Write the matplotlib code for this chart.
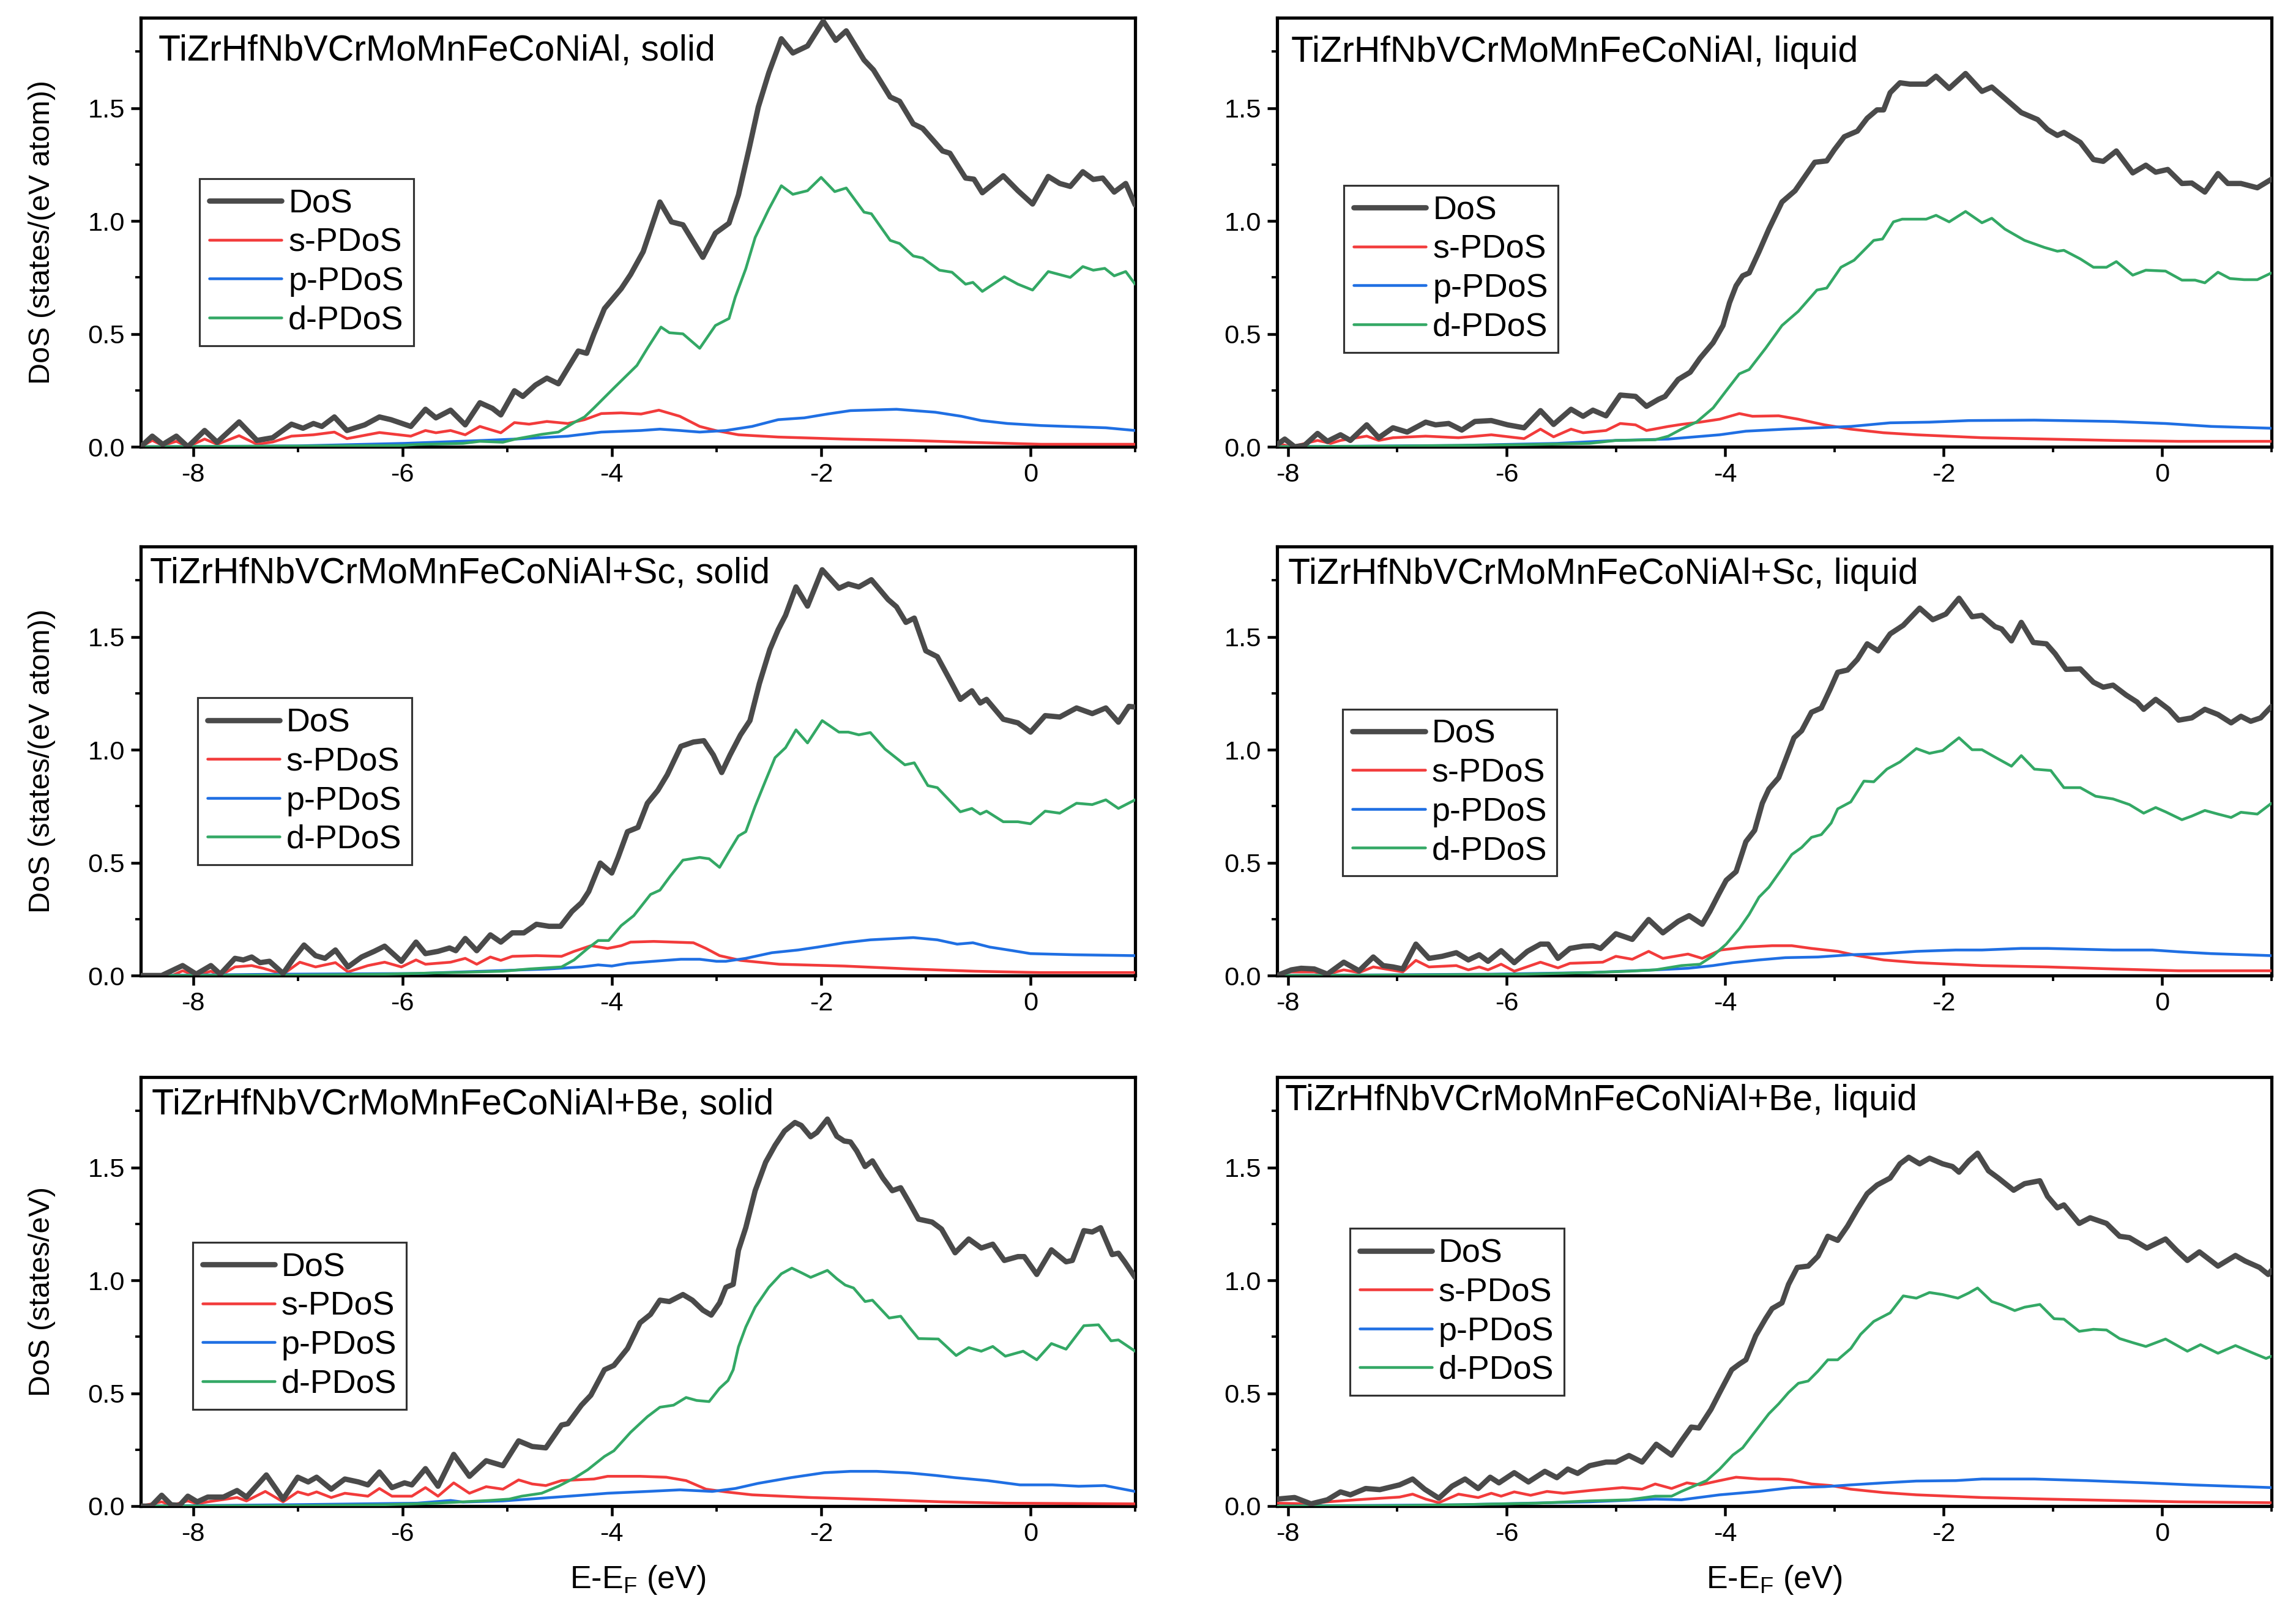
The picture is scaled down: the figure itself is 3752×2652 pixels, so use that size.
import numpy as np
import matplotlib
matplotlib.use("Agg")
import matplotlib.pyplot as plt
from matplotlib.ticker import MultipleLocator

plt.rcParams['font.family'] = ['Liberation Sans', 'DejaVu Sans']
plt.rcParams['axes.unicode_minus'] = False

# ---------------- data (E-EF in eV, DoS) ----------------
titles = ["TiZrHfNbVCrMoMnFeCoNiAl, solid", "TiZrHfNbVCrMoMnFeCoNiAl, liquid",
          "TiZrHfNbVCrMoMnFeCoNiAl+Sc, solid", "TiZrHfNbVCrMoMnFeCoNiAl+Sc, liquid",
          "TiZrHfNbVCrMoMnFeCoNiAl+Be, solid", "TiZrHfNbVCrMoMnFeCoNiAl+Be, liquid"]
series_labels = ["DoS", "s-PDoS", "p-PDoS", "d-PDoS"]
ylabels = ["DoS (states/(eV atom))", "DoS (states/(eV atom))", "DoS (states/eV)"]
xlabel = "E-E$_\\mathregular{F}$ (eV)"

# Panel 1: solid
tl_dos = [(-8.5,0.0),(-8.39,0.047),(-8.29,0.01),(-8.16,0.047),(-8.05,0.0),(-7.89,0.072),(-7.77,0.02),(-7.56,0.11),
          (-7.39,0.028),(-7.24,0.04),(-7.06,0.10),(-6.95,0.082),(-6.85,0.103),(-6.77,0.09),(-6.65,0.132),(-6.53,0.072),
          (-6.36,0.097),(-6.22,0.132),(-6.11,0.12),(-5.92,0.09),(-5.78,0.166),(-5.68,0.128),(-5.54,0.162),(-5.40,0.097),
          (-5.26,0.195),(-5.14,0.17),(-5.06,0.141),(-4.93,0.248),(-4.85,0.223),(-4.73,0.273),(-4.62,0.304),(-4.51,0.279),
          (-4.42,0.348),(-4.32,0.424),(-4.24,0.414),(-4.17,0.50),(-4.07,0.612),(-3.91,0.70),(-3.82,0.763),(-3.70,0.864),
          (-3.54,1.084),(-3.43,0.996),(-3.32,0.983),(-3.13,0.839),(-3.01,0.946),(-2.88,0.99),(-2.79,1.115),(-2.69,1.316),
          (-2.60,1.505),(-2.50,1.656),(-2.38,1.807),(-2.27,1.744),(-2.13,1.775),(-1.98,1.885),(-1.86,1.80),(-1.76,1.842),
          (-1.59,1.713),(-1.50,1.669),(-1.34,1.549),(-1.25,1.53),(-1.12,1.43),(-1.03,1.41),(-0.84,1.31),(-0.77,1.30),
          (-0.62,1.19),(-0.54,1.185),(-0.46,1.125),(-0.26,1.20),(-0.12,1.134),(0.02,1.075),(0.17,1.197),(0.28,1.166),
          (0.38,1.153),(0.50,1.218),(0.60,1.184),(0.69,1.19),(0.80,1.128),(0.91,1.166),(1.0,1.071)]
tl_s = [(-8.5,0.0),(-8.39,0.028),(-8.29,0.006),(-8.16,0.024),(-8.05,0.0),(-7.89,0.034),(-7.77,0.011),(-7.56,0.049),
        (-7.39,0.011),(-7.24,0.021),(-7.06,0.047),(-6.85,0.053),(-6.65,0.065),(-6.53,0.036),(-6.22,0.063),(-5.92,0.047),
        (-5.78,0.072),(-5.68,0.062),(-5.54,0.072),(-5.40,0.053),(-5.26,0.09),(-5.06,0.062),(-4.93,0.107),(-4.79,0.10),
        (-4.62,0.112),(-4.42,0.103),(-4.26,0.12),(-4.10,0.147),(-3.91,0.15),(-3.72,0.145),(-3.55,0.162),(-3.35,0.135),
        (-3.16,0.09),(-3.01,0.072),(-2.79,0.053),(-2.41,0.043),(-1.78,0.034),(-1.16,0.028),(-0.53,0.019),(0.10,0.011),(1.0,0.011)]
tl_p = [(-8.5,0.0),(-7.0,0.004),(-5.98,0.015),(-5.23,0.028),(-4.92,0.034),(-4.42,0.047),(-4.10,0.065),(-3.72,0.072),
        (-3.54,0.078),(-3.35,0.072),(-3.16,0.065),(-2.91,0.072),(-2.66,0.09),(-2.41,0.12),(-2.16,0.128),(-1.94,0.145),
        (-1.72,0.16),(-1.28,0.166),(-0.91,0.153),(-0.66,0.135),(-0.47,0.116),(-0.22,0.103),(0.10,0.094),(0.72,0.084),(1.0,0.072)]
tl_d = [(-8.5,0.0),(-7.0,0.003),(-6.0,0.006),(-5.86,0.01),(-5.42,0.015),(-5.26,0.024),(-5.04,0.02),(-4.92,0.034),
        (-4.67,0.055),(-4.51,0.065),(-4.35,0.11),(-4.26,0.132),(-4.17,0.172),(-3.98,0.26),(-3.76,0.36),(-3.66,0.436),
        (-3.53,0.53),(-3.45,0.505),(-3.32,0.50),(-3.16,0.436),(-3.01,0.537),(-2.88,0.568),(-2.82,0.663),(-2.72,0.788),
        (-2.63,0.927),(-2.50,1.052),(-2.38,1.156),(-2.27,1.118),(-2.13,1.134),(-2.0,1.193),(-1.87,1.13),(-1.76,1.146),
        (-1.59,1.039),(-1.52,1.032),(-1.34,0.914),(-1.25,0.90),(-1.12,0.845),(-1.03,0.836),(-0.87,0.782),(-0.75,0.773),
        (-0.62,0.72),(-0.55,0.728),(-0.46,0.688),(-0.25,0.753),(-0.12,0.72),(0.02,0.694),(0.17,0.776),(0.38,0.75),
        (0.50,0.798),(0.60,0.782),(0.71,0.79),(0.80,0.757),(0.91,0.776),(1.0,0.72)]

# Panel 2: liquid
tr_dos = [(-8.10,0.01),(-8.03,0.034),(-7.94,0.0),(-7.85,0.006),(-7.73,0.059),(-7.64,0.024),(-7.52,0.053),(-7.43,0.028),
          (-7.28,0.097),(-7.17,0.04),(-7.04,0.084),(-6.91,0.065),(-6.74,0.109),(-6.65,0.097),(-6.53,0.103),(-6.41,0.074),
          (-6.29,0.112),(-6.14,0.116),(-5.99,0.097),(-5.84,0.084),(-5.69,0.16),(-5.57,0.099),(-5.41,0.166),(-5.30,0.135),
          (-5.21,0.162),(-5.09,0.137),(-4.96,0.229),(-4.82,0.223),(-4.72,0.179),(-4.61,0.21),(-4.55,0.223),(-4.43,0.298),
          (-4.32,0.33),(-4.23,0.392),(-4.11,0.461),(-4.02,0.537),(-3.96,0.638),(-3.90,0.713),(-3.84,0.757),(-3.78,0.77),
          (-3.69,0.864),(-3.60,0.964),(-3.48,1.084),(-3.36,1.134),(-3.27,1.197),(-3.18,1.26),(-3.07,1.266),(-3.0,1.316),
          (-2.91,1.373),(-2.79,1.398),(-2.70,1.455),(-2.61,1.492),(-2.55,1.492),(-2.49,1.568),(-2.40,1.612),(-2.31,1.606),
          (-2.16,1.606),(-2.07,1.641),(-1.95,1.587),(-1.80,1.653),(-1.65,1.574),(-1.56,1.593),(-1.44,1.543),(-1.29,1.48),
          (-1.14,1.449),(-1.05,1.405),(-0.96,1.379),(-0.90,1.392),(-0.75,1.348),(-0.63,1.272),(-0.54,1.264),(-0.42,1.31),
          (-0.27,1.213),(-0.15,1.247),(-0.06,1.216),(0.05,1.228),(0.18,1.166),(0.27,1.168),(0.39,1.128),(0.51,1.21),
          (0.60,1.166),(0.72,1.166),(0.87,1.147),(1.0,1.185)]
tr_s = [(-8.10,0.015),(-7.97,0.0),(-7.73,0.028),(-7.61,0.015),(-7.52,0.028),(-7.28,0.047),(-7.17,0.028),(-7.04,0.04),
        (-6.74,0.047),(-6.44,0.04),(-6.14,0.053),(-5.84,0.036),(-5.69,0.078),(-5.57,0.044),(-5.41,0.078),(-5.30,0.062),
        (-5.09,0.072),(-4.96,0.103),(-4.82,0.097),(-4.72,0.072),(-4.52,0.09),(-4.40,0.099),(-4.23,0.109),(-4.05,0.122),
        (-3.87,0.147),(-3.75,0.135),(-3.51,0.137),(-3.33,0.122),(-3.09,0.097),(-2.85,0.078),(-2.55,0.062),(-2.25,0.053),
        (-1.65,0.04),(-1.05,0.034),(-0.45,0.028),(0.15,0.024),(1.0,0.024)]
tr_p = [(-8.10,0.0),(-6.44,0.006),(-5.54,0.015),(-5.0,0.028),(-4.52,0.034),(-4.05,0.053),(-3.81,0.069),(-3.45,0.078),
        (-3.15,0.084),(-2.85,0.09),(-2.49,0.106),(-2.13,0.109),(-1.77,0.116),(-1.17,0.118),(-0.45,0.112),(0.03,0.103),
        (0.45,0.09),(1.0,0.082)]
tr_d = [(-8.10,0.0),(-7.0,0.003),(-5.84,0.009),(-5.24,0.015),(-5.0,0.028),(-4.64,0.031),(-4.52,0.047),(-4.40,0.078),
        (-4.26,0.11),(-4.11,0.172),(-3.99,0.248),(-3.87,0.323),(-3.78,0.342),(-3.63,0.436),(-3.48,0.537),(-3.33,0.60),
        (-3.16,0.694),(-3.07,0.703),(-2.94,0.795),(-2.82,0.826),(-2.64,0.914),(-2.56,0.92),(-2.46,0.996),(-2.38,1.008),
        (-2.16,1.008),(-2.07,1.025),(-1.95,0.996),(-1.80,1.042),(-1.65,0.992),(-1.56,1.012),(-1.44,0.964),(-1.26,0.914),
        (-1.08,0.883),(-0.96,0.866),(-0.90,0.87),(-0.75,0.832),(-0.63,0.795),(-0.51,0.795),(-0.42,0.82),(-0.27,0.76),
        (-0.15,0.782),(0.03,0.778),(0.18,0.738),(0.30,0.738),(0.39,0.726),(0.51,0.773),(0.62,0.745),(0.75,0.74),
        (0.87,0.74),(1.0,0.77)]

# Panel 3: +Sc solid
ml_dos = [(-8.5,0.0),(-8.30,0.0),(-8.10,0.044),(-7.97,0.006),(-7.83,0.044),(-7.74,0.006),(-7.60,0.076),(-7.52,0.069),
          (-7.44,0.082),(-7.36,0.057),(-7.27,0.063),(-7.14,0.009),(-7.04,0.076),(-6.94,0.135),(-6.83,0.088),(-6.74,0.076),
          (-6.64,0.113),(-6.52,0.038),(-6.39,0.082),(-6.27,0.107),(-6.17,0.13),(-6.01,0.063),(-5.87,0.148),(-5.78,0.097),
          (-5.66,0.107),(-5.55,0.122),(-5.49,0.11),(-5.40,0.164),(-5.29,0.11),(-5.16,0.18),(-5.06,0.148),(-4.95,0.189),
          (-4.84,0.189),(-4.72,0.227),(-4.60,0.218),(-4.49,0.218),(-4.38,0.284),(-4.29,0.322),(-4.22,0.372),(-4.11,0.498),
          (-4.0,0.454),(-3.94,0.523),(-3.85,0.637),(-3.75,0.656),(-3.66,0.763),(-3.56,0.82),(-3.47,0.889),(-3.34,1.015),
          (-3.22,1.034),(-3.12,1.04),(-3.03,0.977),(-2.95,0.899),(-2.87,0.977),(-2.77,1.066),(-2.68,1.129),(-2.59,1.293),
          (-2.49,1.444),(-2.41,1.532),(-2.34,1.595),(-2.24,1.721),(-2.13,1.636),(-1.99,1.797),(-1.83,1.715),(-1.74,1.734),
          (-1.64,1.721),(-1.52,1.753),(-1.36,1.665),(-1.28,1.633),(-1.19,1.564),(-1.11,1.583),(-1.00,1.438),(-0.89,1.412),
          (-0.78,1.318),(-0.67,1.223),(-0.56,1.261),(-0.48,1.207),(-0.42,1.223),(-0.26,1.135),(-0.12,1.119),(0.0,1.078),
          (0.14,1.151),(0.28,1.145),(0.44,1.185),(0.59,1.16),(0.72,1.185),(0.84,1.122),(0.94,1.192),(1.0,1.189)]
ml_s = [(-8.5,0.0),(-8.20,0.0),(-8.10,0.021),(-7.97,0.0),(-7.83,0.019),(-7.74,0.0),(-7.60,0.038),(-7.44,0.044),
        (-7.33,0.032),(-7.14,0.006),(-6.98,0.059),(-6.83,0.038),(-6.64,0.057),(-6.52,0.016),(-6.33,0.044),(-6.17,0.059),
        (-6.01,0.038),(-5.87,0.069),(-5.78,0.05),(-5.54,0.059),(-5.40,0.076),(-5.29,0.05),(-5.16,0.082),(-5.06,0.067),
        (-4.95,0.085),(-4.72,0.088),(-4.48,0.085),(-4.36,0.107),(-4.20,0.132),(-4.04,0.12),(-3.91,0.132),(-3.82,0.148),
        (-3.60,0.151),(-3.41,0.148),(-3.22,0.145),(-3.10,0.12),(-2.97,0.088),(-2.77,0.067),(-2.40,0.05),(-1.78,0.042),
        (-1.15,0.029),(-0.53,0.019),(0.09,0.013),(1.0,0.013)]
ml_p = [(-8.5,0.0),(-7.11,0.006),(-5.86,0.009),(-5.24,0.019),(-4.60,0.029),(-4.29,0.038),(-4.13,0.047),(-4.0,0.042),
        (-3.85,0.054),(-3.60,0.063),(-3.34,0.072),(-3.16,0.072),(-3.0,0.063),(-2.91,0.063),(-2.72,0.076),(-2.47,0.101),
        (-2.22,0.113),(-2.03,0.126),(-1.78,0.145),(-1.53,0.158),(-1.12,0.168),(-0.89,0.158),(-0.70,0.139),(-0.55,0.145),
        (-0.39,0.126),(-0.17,0.11),(0.0,0.097),(0.41,0.092),(1.0,0.088)]
ml_d = [(-8.5,0.0),(-7.0,0.002),(-6.17,0.006),(-5.54,0.013),(-5.04,0.019),(-4.79,0.029),(-4.48,0.038),(-4.36,0.069),
        (-4.23,0.12),(-4.13,0.155),(-4.03,0.155),(-3.91,0.221),(-3.79,0.265),(-3.63,0.359),(-3.54,0.378),(-3.44,0.441),
        (-3.32,0.511),(-3.16,0.523),(-3.07,0.517),(-2.97,0.479),(-2.88,0.549),(-2.79,0.618),(-2.72,0.637),(-2.63,0.75),
        (-2.53,0.864),(-2.44,0.965),(-2.34,1.009),(-2.24,1.088),(-2.13,1.03),(-1.99,1.129),(-1.83,1.078),(-1.74,1.078),
        (-1.64,1.066),(-1.53,1.076),(-1.39,1.003),(-1.20,0.933),(-1.11,0.942),(-0.98,0.841),(-0.89,0.832),(-0.67,0.725),
        (-0.56,0.74),(-0.48,0.715),(-0.42,0.728),(-0.26,0.681),(-0.12,0.681),(0.0,0.672),(0.14,0.728),(0.28,0.719),
        (0.44,0.763),(0.59,0.757),(0.72,0.778),(0.84,0.74),(1.0,0.778)]

# Panel 4: +Sc liquid
mr_dos = [(-8.10,0.0),(-7.97,0.025),(-7.88,0.032),(-7.76,0.029),(-7.64,0.006),(-7.49,0.059),(-7.35,0.021),(-7.22,0.082),
          (-7.13,0.044),(-7.04,0.038),(-6.95,0.029),(-6.83,0.139),(-6.71,0.076),(-6.59,0.085),(-6.46,0.101),(-6.35,0.069),
          (-6.25,0.092),(-6.17,0.063),(-6.05,0.11),(-5.93,0.057),(-5.81,0.107),(-5.69,0.139),(-5.62,0.139),(-5.53,0.076),
          (-5.42,0.12),(-5.30,0.13),(-5.21,0.132),(-5.14,0.12),(-5.0,0.185),(-4.85,0.16),(-4.70,0.248),(-4.57,0.189),
          (-4.43,0.24),(-4.33,0.265),(-4.21,0.227),(-4.14,0.284),(-4.06,0.359),(-3.99,0.422),(-3.90,0.46),(-3.81,0.593),
          (-3.73,0.643),(-3.66,0.763),(-3.60,0.826),(-3.51,0.876),(-3.45,0.952),(-3.37,1.053),(-3.30,1.084),(-3.21,1.166),
          (-3.12,1.185),(-3.04,1.267),(-2.97,1.343),(-2.88,1.353),(-2.79,1.40),(-2.70,1.469),(-2.60,1.438),(-2.49,1.513),
          (-2.37,1.551),(-2.22,1.627),(-2.10,1.576),(-1.98,1.601),(-1.86,1.671),(-1.74,1.589),(-1.65,1.595),(-1.53,1.545),
          (-1.47,1.535),(-1.38,1.482),(-1.29,1.564),(-1.18,1.475),(-1.06,1.469),(-0.98,1.425),(-0.88,1.356),(-0.75,1.358),
          (-0.63,1.299),(-0.54,1.277),(-0.45,1.286),(-0.33,1.242),(-0.23,1.211),(-0.17,1.179),(-0.06,1.223),(0.06,1.179),
          (0.15,1.131),(0.27,1.141),(0.39,1.179),(0.51,1.156),(0.63,1.119),(0.72,1.148),(0.81,1.126),(0.90,1.141),(1.0,1.192)]
mr_s = [(-8.10,0.006),(-7.97,0.016),(-7.76,0.016),(-7.64,0.006),(-7.49,0.025),(-7.35,0.013),(-7.22,0.038),(-6.95,0.016),
        (-6.83,0.067),(-6.71,0.038),(-6.46,0.044),(-6.35,0.025),(-6.25,0.038),(-6.17,0.025),(-6.05,0.05),(-5.93,0.019),
        (-5.69,0.059),(-5.53,0.034),(-5.42,0.054),(-5.12,0.059),(-5.0,0.085),(-4.85,0.072),(-4.70,0.107),(-4.57,0.076),
        (-4.34,0.095),(-4.21,0.076),(-4.04,0.113),(-3.81,0.126),(-3.57,0.132),(-3.39,0.132),(-3.21,0.12),(-2.97,0.107),
        (-2.79,0.088),(-2.55,0.069),(-2.25,0.057),(-1.65,0.044),(-1.05,0.038),(-0.45,0.029),(0.15,0.021),(1.0,0.021)]
mr_p = [(-8.10,0.0),(-6.14,0.006),(-5.24,0.013),(-4.64,0.025),(-4.34,0.032),(-4.11,0.044),(-3.93,0.057),(-3.69,0.069),
        (-3.45,0.079),(-3.15,0.082),(-2.85,0.092),(-2.55,0.097),(-2.25,0.107),(-1.89,0.113),(-1.65,0.113),(-1.29,0.12),
        (-1.05,0.12),(-0.45,0.113),(-0.09,0.113),(0.15,0.105),(0.45,0.097),(1.0,0.088)]
mr_d = [(-8.10,0.0),(-7.0,0.002),(-5.84,0.006),(-5.24,0.013),(-4.88,0.019),(-4.64,0.025),(-4.40,0.044),(-4.23,0.05),
        (-4.11,0.088),(-3.99,0.139),(-3.87,0.208),(-3.78,0.271),(-3.69,0.347),(-3.60,0.391),(-3.48,0.473),(-3.39,0.536),
        (-3.30,0.567),(-3.21,0.612),(-3.12,0.624),(-3.03,0.675),(-2.97,0.738),(-2.85,0.769),(-2.73,0.861),(-2.64,0.858),
        (-2.52,0.914),(-2.40,0.946),(-2.25,1.005),(-2.13,0.984),(-2.01,0.996),(-1.86,1.053),(-1.74,1.0),(-1.65,1.0),
        (-1.53,0.967),(-1.38,0.927),(-1.29,0.974),(-1.17,0.914),(-1.02,0.908),(-0.90,0.832),(-0.75,0.832),(-0.61,0.794),
        (-0.45,0.782),(-0.30,0.757),(-0.17,0.719),(-0.06,0.744),(0.03,0.725),(0.18,0.69),(0.27,0.706),(0.39,0.731),
        (0.51,0.715),(0.63,0.70),(0.72,0.723),(0.87,0.715),(1.0,0.763)]

# Panel 5: +Be solid
bl_dos = [(-8.5,0.0),(-8.40,0.0),(-8.30,0.048),(-8.21,0.006),(-8.13,0.003),(-8.05,0.044),(-7.96,0.019),(-7.86,0.04),
          (-7.71,0.04),(-7.58,0.069),(-7.49,0.04),(-7.30,0.138),(-7.14,0.031),(-7.0,0.128),(-6.90,0.107),(-6.82,0.128),
          (-6.68,0.075),(-6.55,0.12),(-6.42,0.107),(-6.33,0.094),(-6.22,0.151),(-6.10,0.082),(-5.98,0.103),(-5.91,0.094),
          (-5.78,0.166),(-5.66,0.088),(-5.51,0.229),(-5.36,0.132),(-5.20,0.201),(-5.04,0.179),(-4.89,0.289),(-4.76,0.264),
          (-4.63,0.258),(-4.48,0.359),(-4.42,0.365),(-4.29,0.447),(-4.20,0.491),(-4.07,0.604),(-3.98,0.623),(-3.85,0.698),
          (-3.73,0.812),(-3.63,0.849),(-3.54,0.912),(-3.45,0.906),(-3.32,0.937),(-3.23,0.912),(-3.13,0.868),(-3.05,0.846),
          (-2.97,0.90),(-2.91,0.969),(-2.84,0.982),(-2.79,1.133),(-2.72,1.233),(-2.63,1.397),(-2.53,1.523),(-2.44,1.598),
          (-2.35,1.661),(-2.25,1.699),(-2.19,1.686),(-2.10,1.636),(-2.04,1.655),(-1.94,1.714),(-1.85,1.638),(-1.78,1.617),
          (-1.72,1.613),(-1.66,1.573),(-1.58,1.504),(-1.51,1.529),(-1.41,1.453),(-1.32,1.397),(-1.24,1.41),(-1.16,1.346),
          (-1.07,1.271),(-0.94,1.258),(-0.85,1.227),(-0.72,1.122),(-0.59,1.183),(-0.47,1.143),(-0.36,1.16),(-0.25,1.088),
          (-0.12,1.105),(-0.06,1.105),(0.06,1.026),(0.20,1.135),(0.34,1.082),(0.40,1.088),(0.51,1.22),(0.59,1.214),
          (0.67,1.233),(0.78,1.114),(0.84,1.12),(0.90,1.082),(1.0,1.013)]
bl_s = [(-8.5,0.0),(-8.30,0.019),(-8.21,0.003),(-8.05,0.023),(-7.96,0.01),(-7.86,0.019),(-7.58,0.038),(-7.49,0.023),
        (-7.31,0.065),(-7.14,0.019),(-7.0,0.063),(-6.90,0.05),(-6.82,0.063),(-6.68,0.038),(-6.55,0.057),(-6.33,0.044),
        (-6.22,0.078),(-6.10,0.044),(-5.91,0.044),(-5.78,0.082),(-5.66,0.044),(-5.51,0.103),(-5.36,0.057),(-5.20,0.086),
        (-5.04,0.075),(-4.89,0.116),(-4.76,0.098),(-4.63,0.091),(-4.48,0.113),(-4.17,0.12),(-4.04,0.132),(-3.73,0.132),
        (-3.48,0.128),(-3.29,0.113),(-3.10,0.075),(-2.91,0.063),(-2.66,0.05),(-2.10,0.038),(-1.47,0.029),(-0.85,0.019),
        (-0.23,0.013),(1.0,0.01)]
bl_p = [(-8.5,0.0),(-7.1,0.006),(-5.86,0.013),(-5.54,0.025),(-5.42,0.018),(-5.04,0.023),(-4.67,0.035),(-4.29,0.048),
        (-4.04,0.057),(-3.66,0.065),(-3.35,0.072),(-3.04,0.065),(-2.82,0.078),(-2.60,0.101),(-2.29,0.126),(-1.97,0.148),
        (-1.72,0.154),(-1.47,0.154),(-1.16,0.147),(-0.91,0.136),(-0.72,0.126),(-0.41,0.113),(-0.10,0.094),(0.21,0.094),
        (0.46,0.088),(0.71,0.091),(1.0,0.065)]
bl_d = [(-8.5,0.0),(-7.0,0.002),(-6.17,0.006),(-5.67,0.013),(-5.42,0.019),(-5.17,0.025),(-4.98,0.031),(-4.86,0.044),
        (-4.67,0.057),(-4.51,0.088),(-4.35,0.126),(-4.23,0.161),(-4.07,0.22),(-3.98,0.245),(-3.82,0.327),(-3.66,0.396),
        (-3.54,0.438),(-3.41,0.447),(-3.29,0.481),(-3.19,0.468),(-3.07,0.463),(-2.97,0.522),(-2.89,0.556),(-2.84,0.604),
        (-2.79,0.705),(-2.72,0.793),(-2.63,0.881),(-2.50,0.969),(-2.38,1.029),(-2.28,1.054),(-2.19,1.034),(-2.10,1.013),
        (-1.94,1.044),(-1.85,1.007),(-1.77,0.979),(-1.69,0.966),(-1.58,0.906),(-1.51,0.912),(-1.35,0.833),(-1.24,0.841),
        (-1.16,0.793),(-1.07,0.742),(-0.88,0.74),(-0.71,0.667),(-0.59,0.702),(-0.47,0.686),(-0.36,0.707),(-0.24,0.664),
        (-0.07,0.686),(0.06,0.648),(0.20,0.72),(0.34,0.695),(0.51,0.799),(0.65,0.803),(0.77,0.732),(0.84,0.736),(1.0,0.686)]

# Panel 6: +Be liquid
br_dos = [(-8.10,0.031),(-7.94,0.038),(-7.79,0.01),(-7.64,0.028),(-7.52,0.063),(-7.43,0.05),(-7.29,0.078),(-7.16,0.073),
          (-6.98,0.094),(-6.86,0.12),(-6.75,0.075),(-6.62,0.035),(-6.50,0.088),(-6.38,0.12),(-6.26,0.078),(-6.15,0.128),
          (-6.07,0.103),(-5.93,0.148),(-5.80,0.107),(-5.65,0.154),(-5.54,0.126),(-5.44,0.164),(-5.35,0.145),(-5.24,0.179),
          (-5.09,0.195),(-5.0,0.195),(-4.88,0.224),(-4.76,0.195),(-4.63,0.274),(-4.49,0.226),(-4.40,0.289),(-4.31,0.35),
          (-4.24,0.346),(-4.13,0.428),(-4.05,0.503),(-3.94,0.604),(-3.87,0.629),(-3.81,0.648),(-3.72,0.755),(-3.63,0.83),
          (-3.57,0.875),(-3.48,0.90),(-3.42,0.982),(-3.34,1.057),(-3.24,1.063),(-3.15,1.107),(-3.06,1.195),(-2.97,1.177),
          (-2.88,1.24),(-2.79,1.315),(-2.70,1.384),(-2.61,1.422),(-2.49,1.453),(-2.40,1.516),(-2.32,1.545),(-2.22,1.516),
          (-2.13,1.541),(-2.01,1.516),(-1.92,1.504),(-1.86,1.479),(-1.77,1.529),(-1.69,1.563),(-1.59,1.485),(-1.50,1.453),
          (-1.36,1.399),(-1.26,1.428),(-1.12,1.441),(-1.05,1.372),(-0.96,1.321),(-0.90,1.334),(-0.76,1.252),(-0.66,1.277),
          (-0.51,1.252),(-0.39,1.195),(-0.30,1.189),(-0.14,1.143),(0.03,1.183),(0.13,1.133),(0.23,1.088),(0.34,1.126),
          (0.51,1.063),(0.67,1.11),(0.76,1.085),(0.89,1.057),(0.97,1.026),(1.0,1.044)]
br_s = [(-8.10,0.013),(-7.79,0.01),(-7.64,0.019),(-7.28,0.031),(-6.98,0.04),(-6.86,0.053),(-6.74,0.031),(-6.62,0.015),
        (-6.44,0.053),(-6.26,0.038),(-6.14,0.057),(-6.05,0.044),(-5.93,0.063),(-5.78,0.048),(-5.63,0.065),(-5.48,0.057),
        (-5.24,0.069),(-4.94,0.082),(-4.76,0.075),(-4.64,0.098),(-4.49,0.078),(-4.35,0.103),(-4.23,0.094),(-4.05,0.113),
        (-3.90,0.128),(-3.69,0.12),(-3.51,0.12),(-3.39,0.116),(-3.21,0.098),(-3.03,0.091),(-2.85,0.075),(-2.55,0.06),
        (-2.25,0.05),(-1.65,0.038),(-1.05,0.031),(-0.45,0.025),(0.15,0.019),(1.0,0.015)]
br_p = [(-8.10,0.0),(-6.44,0.006),(-5.24,0.019),(-4.64,0.031),(-4.40,0.028),(-4.05,0.05),(-3.69,0.065),(-3.39,0.082),
        (-3.09,0.086),(-2.85,0.094),(-2.55,0.103),(-2.25,0.111),(-1.89,0.113),(-1.65,0.12),(-1.17,0.12),(-0.69,0.113),
        (-0.15,0.103),(0.27,0.094),(1.0,0.082)]
br_d = [(-8.10,0.0),(-7.0,0.002),(-6.44,0.006),(-5.72,0.013),(-5.24,0.023),(-4.88,0.028),(-4.64,0.044),(-4.49,0.044),
        (-4.40,0.065),(-4.29,0.088),(-4.17,0.113),(-4.05,0.164),(-3.93,0.226),(-3.84,0.258),(-3.75,0.315),(-3.60,0.409),
        (-3.51,0.453),(-3.42,0.503),(-3.33,0.544),(-3.24,0.554),(-3.15,0.598),(-3.06,0.648),(-2.97,0.648),(-2.85,0.698),
        (-2.76,0.761),(-2.64,0.818),(-2.49,0.856),(-2.37,0.931),(-2.25,0.921),(-2.13,0.946),(-2.01,0.937),(-1.87,0.921),
        (-1.77,0.944),(-1.69,0.966),(-1.56,0.906),(-1.47,0.891),(-1.35,0.866),(-1.26,0.881),(-1.12,0.893),(-0.99,0.83),
        (-0.90,0.828),(-0.76,0.774),(-0.63,0.783),(-0.51,0.78),(-0.39,0.742),(-0.27,0.724),(-0.15,0.707),(0.03,0.74),
        (0.23,0.686),(0.35,0.715),(0.51,0.677),(0.67,0.711),(0.82,0.68),(0.95,0.654),(1.0,0.664)]

panels = [(tl_dos, tl_s, tl_p, tl_d), (tr_dos, tr_s, tr_p, tr_d),
          (ml_dos, ml_s, ml_p, ml_d), (mr_dos, mr_s, mr_p, mr_d),
          (bl_dos, bl_s, bl_p, bl_d), (br_dos, br_s, br_p, br_d)]

# ---------------- styling ----------------
colors = ["#4a4a4a", "#f23b3b", "#1f6fe3", "#33a865"]
widths = [2.5, 1.3, 1.3, 1.3]
xlims = [(-8.5, 1.0), (-8.1, 1.0)]
legend_pos = [(0.059, 0.625), (0.067, 0.609), (0.057, 0.647),
              (0.066, 0.621), (0.052, 0.615), (0.073, 0.647)]
title_pos = [(0.018, 0.962), (0.014, 0.959), (0.009, 0.977),
             (0.011, 0.974), (0.011, 0.975), (0.008, 0.984)]

W, H = 3752, 2652
fig = plt.figure(figsize=(W / 250, H / 250), dpi=250)
col_x = [230, 2087]
col_w = 1625
row_top = [29, 893, 1760]
row_h = 701

for i, data in enumerate(panels):
    r, c = divmod(i, 2)
    ax = fig.add_axes([col_x[c] / W, 1 - (row_top[r] + row_h) / H, col_w / W, row_h / H])
    for k, ser in enumerate(data):
        arr = np.array(ser)
        ax.plot(arr[:, 0], arr[:, 1], color=colors[k], lw=widths[k],
                label=series_labels[k], solid_joinstyle='round', solid_capstyle='round',
                zorder=3 + (k == 0))
    ax.set_xlim(*xlims[c])
    ax.set_ylim(0, 1.9)
    ax.xaxis.set_major_locator(MultipleLocator(2))
    ax.xaxis.set_minor_locator(MultipleLocator(1))
    ax.yaxis.set_major_locator(MultipleLocator(0.5))
    ax.yaxis.set_minor_locator(MultipleLocator(0.25))
    ax.yaxis.set_major_formatter(matplotlib.ticker.FormatStrFormatter('%.1f'))
    ax.tick_params(which='major', direction='out', length=4.5, width=1.3, labelsize=12.5, pad=3)
    ax.tick_params(which='minor', direction='out', length=2.5, width=1.1)
    for sp in ax.spines.values():
        sp.set_linewidth(1.5)
    ax.text(title_pos[i][0], title_pos[i][1], titles[i], transform=ax.transAxes,
            ha='left', va='top', fontsize=17)
    leg = ax.legend(loc='upper left', bbox_to_anchor=legend_pos[i], borderaxespad=0,
                    fontsize=15.5, frameon=True, fancybox=False, edgecolor='black',
                    handlelength=2.2, handletextpad=0.2, labelspacing=0.25, borderpad=0.3)
    leg.get_frame().set_linewidth(0.9)
    if c == 0:
        ax.set_ylabel(ylabels[r], fontsize=14, labelpad=15)
    if r == 2:
        ax.set_xlabel(xlabel, fontsize=15, labelpad=8)

fig.savefig("out.png", dpi=250)
